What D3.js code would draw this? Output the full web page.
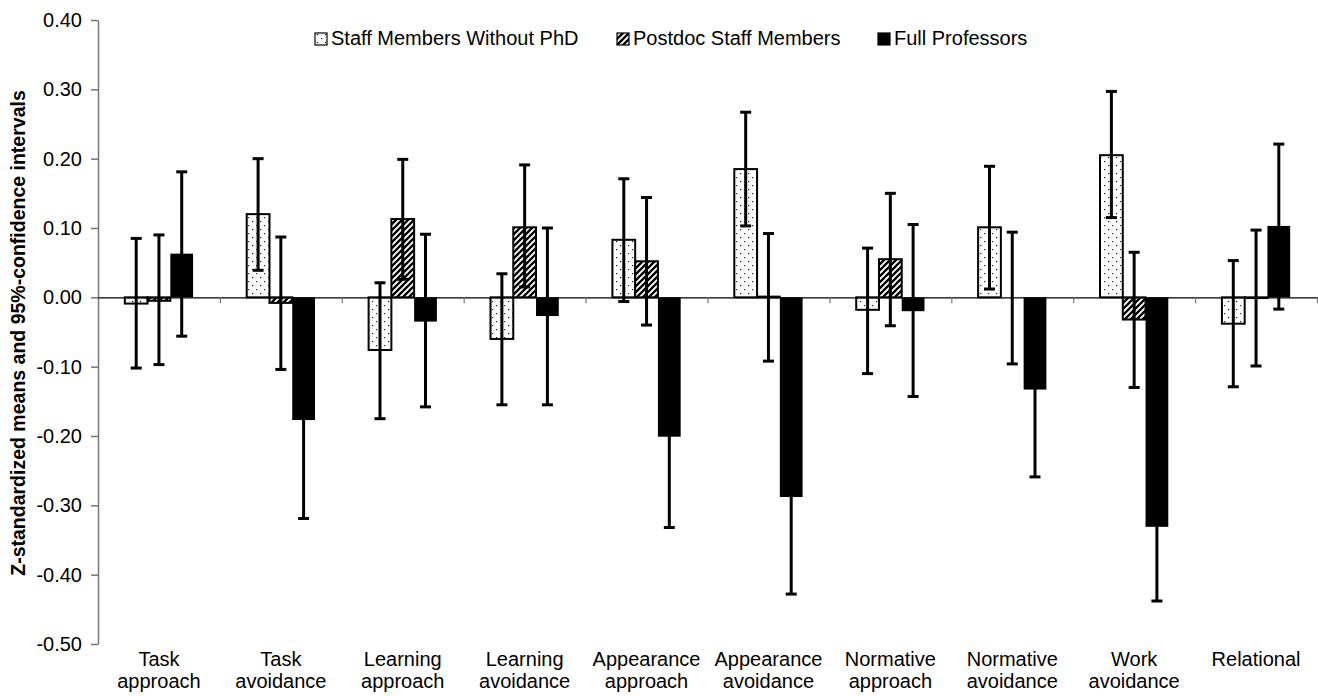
<!DOCTYPE html>
<html>
<head>
<meta charset="utf-8">
<script src="https://cdn.jsdelivr.net/npm/d3@7"></script>
<style>
  body { margin: 0; background: #fff; }
  svg { display: block; font-family: "Liberation Sans", Arial, sans-serif; }
  .y.axis path, .y.axis line { stroke: #767676; stroke-width: 1.5; }
  .y.axis text { font-size: 20px; fill: #000; }
  .x.axis path { stroke: #000; stroke-width: 1.2; }
  .x.axis line { stroke: #767676; stroke-width: 1.2; }
  .cat-label { font-size: 20px; fill: #000; }
  .legend text { font-size: 20px; fill: #000; }
  .y-title { font-size: 19.5px; font-weight: bold; }
  .err line { stroke: #000; stroke-width: 3; }
</style>
</head>
<body>
<svg width="1318" height="696"></svg>
<script>
'use strict';

// categories, one entry per line of the label
var CATEGORIES = [
  ['Task', 'approach'], ['Task', 'avoidance'], ['Learning', 'approach'], ['Learning', 'avoidance'],
  ['Appearance', 'approach'], ['Appearance', 'avoidance'], ['Normative', 'approach'],
  ['Normative', 'avoidance'], ['Work', 'avoidance'], ['Relational']
];
var SERIES = ['Staff Members Without PhD', 'Postdoc Staff Members', 'Full Professors'];

var staffMean  = [-0.009, 0.120, -0.076, -0.060, 0.083, 0.185, -0.018, 0.101, 0.205, -0.038];
var staffLow   = [-0.102, 0.039, -0.175, -0.155, -0.006, 0.103, -0.110, 0.012, 0.115, -0.129];
var staffHigh  = [0.085, 0.200, 0.021, 0.034, 0.171, 0.267, 0.071, 0.189, 0.297, 0.053];

var postdocMean = [-0.005, -0.008, 0.113, 0.101, 0.052, 0.001, 0.055, 0.000, -0.032, -0.001];
var postdocLow  = [-0.097, -0.104, 0.026, 0.015, -0.040, -0.092, -0.041, -0.096, -0.130, -0.099];
var postdocHigh = [0.090, 0.087, 0.199, 0.191, 0.144, 0.092, 0.150, 0.094, 0.065, 0.097];

var profMean = [0.063, -0.177, -0.035, -0.027, -0.201, -0.288, -0.020, -0.133, -0.331, 0.103];
var profLow  = [-0.056, -0.319, -0.158, -0.155, -0.332, -0.428, -0.143, -0.259, -0.438, -0.017];
var profHigh = [0.181, -0.035, 0.091, 0.100, -0.070, -0.148, 0.105, -0.007, -0.224, 0.221];

var Y_TICKS = [-0.50, -0.40, -0.30, -0.20, -0.10, 0.00, 0.10, 0.20, 0.30, 0.40];

var svg = d3.select('svg');
var margin = { top: 20, right: 1, bottom: 52, left: 98 };
var width = 1318, height = 696;
var innerWidth = width - margin.left - margin.right;
var innerHeight = height - margin.top - margin.bottom;

var seriesData = [
  { name: SERIES[0], fill: 'url(#dots)', stroke: '#000', mean: staffMean, low: staffLow, high: staffHigh },
  { name: SERIES[1], fill: 'url(#hatch)', stroke: '#000', mean: postdocMean, low: postdocLow, high: postdocHigh },
  { name: SERIES[2], fill: '#000', stroke: 'none', mean: profMean, low: profLow, high: profHigh }
];

// patterns
var defs = svg.append('defs');
var dots = defs.append('pattern').attr('id', 'dots').attr('patternUnits', 'userSpaceOnUse')
  .attr('width', 8).attr('height', 8);
dots.append('rect').attr('width', 8).attr('height', 8).attr('fill', '#fff');
dots.append('rect').attr('x', 2).attr('y', 1).attr('width', 1.2).attr('height', 1.2).attr('fill', '#222');
dots.append('rect').attr('x', 6).attr('y', 5).attr('width', 1.2).attr('height', 1.2).attr('fill', '#222');

var hatch = defs.append('pattern').attr('id', 'hatch').attr('patternUnits', 'userSpaceOnUse')
  .attr('width', 6).attr('height', 6);
hatch.append('rect').attr('width', 6).attr('height', 6).attr('fill', '#fff');
hatch.append('path').attr('d', 'M-1,1 l2,-2 M0,6 l6,-6 M5,7 l2,-2')
  .attr('stroke', '#000').attr('stroke-width', 2.3);

var inner = svg.append('g').attr('transform', 'translate(' + margin.left + ',' + margin.top + ')');

var xScale = d3.scaleBand().domain(d3.range(CATEGORIES.length)).range([0, innerWidth]);
var bw = xScale.bandwidth();
var groupWidth = bw * 0.56;
var xInner = d3.scaleBand().domain(d3.range(SERIES.length))
  .range([(bw - groupWidth) / 2, (bw + groupWidth) / 2]);
var yScale = d3.scaleLinear().domain([-0.5, 0.4]).range([innerHeight, 0]);
var xIndex = d3.scaleLinear().domain([0, CATEGORIES.length]).range([0, innerWidth]);

// y axis
inner.append('g').attr('class', 'y axis')
  .call(d3.axisLeft(yScale).tickValues(Y_TICKS).tickSize(7).tickSizeOuter(0).tickPadding(9)
    .tickFormat(function (d) { return d.toFixed(2); }));

// bars
seriesData.forEach(function (s, si) {
  inner.append('g').selectAll('rect').data(s.mean).enter().append('rect')
    .attr('x', function (d, i) { return xScale(i) + xInner(si); })
    .attr('width', xInner.bandwidth())
    .attr('y', function (d) { return yScale(Math.max(0, d)); })
    .attr('height', function (d) { return Math.abs(yScale(d) - yScale(0)); })
    .attr('fill', s.fill)
    .attr('stroke', s.stroke)
    .attr('stroke-width', 2);
});

// zero line with category boundary ticks
inner.append('g').attr('class', 'x axis').attr('transform', 'translate(0,' + yScale(0) + ')')
  .call(d3.axisBottom(xIndex).tickValues(d3.range(1, CATEGORIES.length + 1)).tickSize(6)
    .tickSizeOuter(0).tickFormat(''));

// error bars
var capHalf = 5.5;
seriesData.forEach(function (s, si) {
  var g = inner.append('g').attr('class', 'err');
  var cx = function (i) { return xScale(i) + xInner(si) + xInner.bandwidth() / 2; };
  g.selectAll('line.stem').data(s.mean).enter().append('line').attr('class', 'stem')
    .attr('x1', function (d, i) { return cx(i); }).attr('x2', function (d, i) { return cx(i); })
    .attr('y1', function (d, i) { return yScale(s.low[i]); })
    .attr('y2', function (d, i) { return yScale(s.high[i]); });
  ['low', 'high'].forEach(function (k) {
    g.selectAll('line.cap-' + k).data(s[k]).enter().append('line').attr('class', 'cap-' + k)
      .attr('x1', function (d, i) { return cx(i) - capHalf; })
      .attr('x2', function (d, i) { return cx(i) + capHalf; })
      .attr('y1', function (d) { return yScale(d); })
      .attr('y2', function (d) { return yScale(d); });
  });
});

// category labels, one text per line
var catGroups = inner.append('g').selectAll('g').data(CATEGORIES).enter().append('g')
  .attr('transform', function (d, i) { return 'translate(' + (xScale(i) + bw / 2) + ',' + (innerHeight + 22) + ')'; });
catGroups.selectAll('text').data(function (d) { return d; }).enter().append('text')
  .attr('class', 'cat-label').attr('text-anchor', 'middle')
  .attr('y', function (d, j) { return j * 22; })
  .text(function (d) { return d; });

// y title
svg.append('text').attr('class', 'y-title').attr('text-anchor', 'middle')
  .attr('transform', 'translate(25,' + 333 + ') rotate(-90)')
  .text('Z-standardized means and 95%-confidence intervals');

// legend
var legendX = [315, 617, 878];
var legend = svg.append('g').attr('class', 'legend');
seriesData.forEach(function (s, si) {
  var item = legend.append('g').attr('transform', 'translate(' + legendX[si] + ',33)');
  item.append('rect').attr('width', 12).attr('height', 12)
    .attr('fill', s.fill).attr('stroke', '#000').attr('stroke-width', 1.2);
  item.append('text').attr('x', 16).attr('y', 12).text(s.name);
});
</script>
</body>
</html>
